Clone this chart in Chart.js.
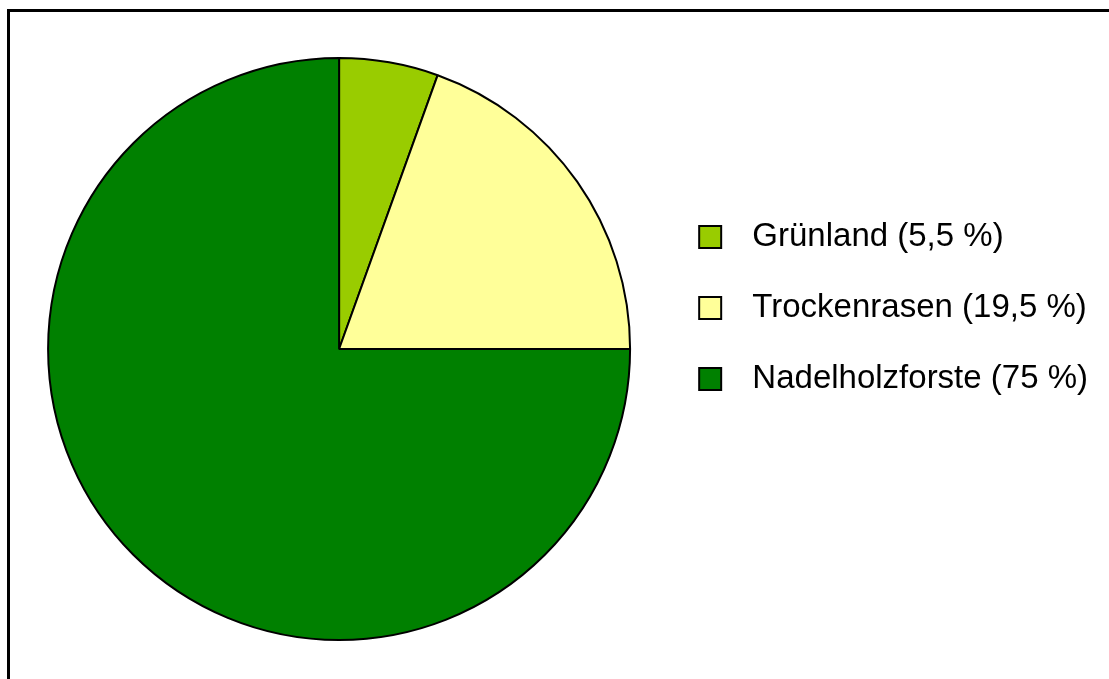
<!DOCTYPE html>
<html>
<head>
<meta charset="utf-8">
<script src="https://cdn.jsdelivr.net/npm/chart.js@4.4.0/dist/chart.umd.min.js"></script>
<style>
    html, body { margin: 0; padding: 0; background: #fff; overflow: hidden; }
    #frame {
        position: absolute; left: 7px; top: 9px; width: 2000px; height: 2000px;
        border-left: 3px solid #000; border-top: 3px solid #000;
    }
    #wrap { position: absolute; left: 0; top: 0; width: 1109px; height: 679px; }
</style>
</head>
<body>
<div id="frame"></div>
<div id="wrap"><canvas id="pieChart"></canvas></div>
<script>
    // Flächenanteile
    var categories = ['Grünland (5,5 %)', 'Trockenrasen (19,5 %)', 'Nadelholzforste (75 %)'];
    var shares = [5.5, 19.5, 75];
    var sliceColors = ['#99cc00', '#ffff99', '#008000'];

    var ctx = document.getElementById('pieChart').getContext('2d');
    var chart = new Chart(ctx, {
        type: 'pie',
        data: {
            labels: categories,
            datasets: [{
                data: shares,
                backgroundColor: sliceColors,
                borderColor: '#000',
                borderWidth: 2,
                radius: 291
            }]
        },
        options: {
            responsive: true,
            maintainAspectRatio: false,
            animation: false,
            layout: {
                padding: { left: 22.5, right: 11, top: 30, bottom: 11 }
            },
            plugins: {
                tooltip: { enabled: false },
                legend: {
                    position: 'right',
                    align: 'start',
                    title: {
                        display: true,
                        text: '',
                        font: { size: 12 },
                        padding: { top: 138, bottom: 0 }
                    },
                    labels: {
                        usePointStyle: true,
                        pointStyle: 'rect',
                        boxHeight: 22,
                        padding: 38,
                        color: '#000',
                        font: { family: '"Liberation Sans", Arial, sans-serif', size: 33 },
                        generateLabels: function (c) {
                            var items = Chart.overrides.pie.plugins.legend.labels.generateLabels(c);
                            items.forEach(function (it) { it.text = ' ' + it.text; });
                            return items;
                        }
                    }
                }
            }
        }
    });
</script>
</body>
</html>
